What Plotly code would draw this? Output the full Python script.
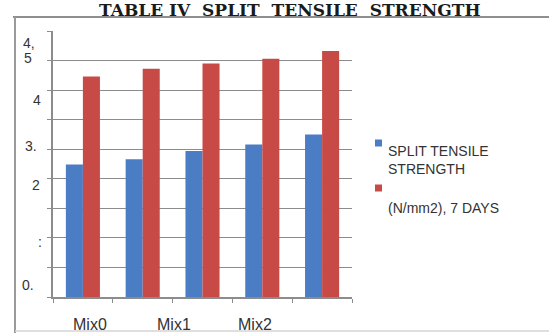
import plotly.graph_objects as go

# Split tensile strength (N/mm2) per mix
mixes = ["Mix0", "Mix1", "Mix2", "Mix3", "Mix4"]
split_tensile = [2.24, 2.33, 2.47, 2.58, 2.75]
days_7 = [3.73, 3.86, 3.95, 4.03, 4.16]

series_names = ["SPLIT TENSILE<br>STRENGTH", "(N/mm2), 7 DAYS"]
series_colors = ["#4a7dc4", "#c84a47"]

# Printed axis labels as they appear on the sheet
y_label_text = ["4,", "5", "4", "3.", "2", ":", "0."]
y_label_pos = [4.29, 4.04, 3.33, 2.55, 1.89, 0.93, 0.20]
y_label_x = [-0.080, -0.085, -0.054, -0.072, -0.057, -0.043, -0.084]

x_label_text = ["Mix0", "Mix1", "Mix2"]
x_label_pos = [0.12, 1.53, 2.87]

title_text = "TABLE IV  SPLIT  TENSILE  STRENGTH"

fig = go.Figure()
for name, vals, col in zip(series_names, [split_tensile, days_7], series_colors):
    fig.add_trace(go.Bar(x=mixes, y=vals, name=name, marker_color=col,
                         marker_line_width=0, showlegend=False))

W, H = 549, 333
L, R, T, B = 53, 197, 31, 36
pw, ph = W - L - R, H - T - B


def px(x):
    return (x - L) / pw


def py(y):
    return (H - B - y) / ph


axis_font = dict(family="Liberation Sans, Arial, sans-serif", color="#333333")

fig.update_layout(
    width=W, height=H,
    margin=dict(l=L, r=R, t=T, b=B),
    paper_bgcolor="white", plot_bgcolor="white",
    barmode="group", bargap=0.43, bargroupgap=0,
    xaxis=dict(showticklabels=False, ticks="outside", ticklen=4,
               tickson="boundaries", tickcolor="#8c8c8c",
               showline=True, linecolor="#8c8c8c", linewidth=1.5,
               showgrid=False, zeroline=False),
    yaxis=dict(range=[0, 4.5], dtick=0.5, showticklabels=False,
               ticks="outside", ticklen=4, tickcolor="#8c8c8c",
               showline=True, linecolor="#8c8c8c", linewidth=1.5,
               showgrid=True, gridcolor="#8c8c8c", gridwidth=1.3,
               zeroline=False),
)

# chart frame
frame = dict(type="line", xref="paper", yref="paper", layer="below")
fig.add_shape(**frame, x0=px(13), x1=px(560), y0=py(17), y1=py(17),
              line=dict(color="#8f8f8f", width=2))
fig.add_shape(**frame, x0=px(15), x1=px(15), y0=py(17), y1=py(340),
              line=dict(color="#9a9a9a", width=2))
fig.add_shape(**frame, x0=px(15), x1=px(560), y0=py(331), y1=py(331),
              line=dict(color="#d4d4d4", width=1.5))

# y-axis labels
for t, yv, xv in zip(y_label_text, y_label_pos, y_label_x):
    fig.add_annotation(text=t, x=xv, y=yv, xref="paper", yref="y",
                       xanchor="center", yanchor="middle", showarrow=False,
                       font=dict(size=14, **axis_font))

# category labels
for t, xv in zip(x_label_text, x_label_pos):
    fig.add_annotation(text=t, x=xv, y=py(325), xref="x", yref="paper",
                       xanchor="center", yanchor="middle", showarrow=False,
                       font=dict(size=16, **axis_font))

# legend
sq = 7
legend_rows = [(143, 160), (188, 208)]
for (ys, yt), name, col in zip(legend_rows, series_names, series_colors):
    fig.add_shape(type="rect", xref="paper", yref="paper",
                  x0=px(375), x1=px(375 + sq), y0=py(ys - sq / 2), y1=py(ys + sq / 2),
                  fillcolor=col, line_width=0)
    fig.add_annotation(text=name, x=px(386), y=py(yt), xref="paper", yref="paper",
                       xanchor="left", yanchor="middle",
                       align="left", showarrow=False,
                       font=dict(size=14, **axis_font))

# title strip along the top edge
fig.add_annotation(text=f"<b>{title_text}</b>", x=px(97), y=py(9.5),
                   xref="paper", yref="paper", xanchor="left", yanchor="middle",
                   showarrow=False,
                   font=dict(size=17, family="DejaVu Serif, serif", color="#1a1a1a"))

fig.write_html("out.html")
